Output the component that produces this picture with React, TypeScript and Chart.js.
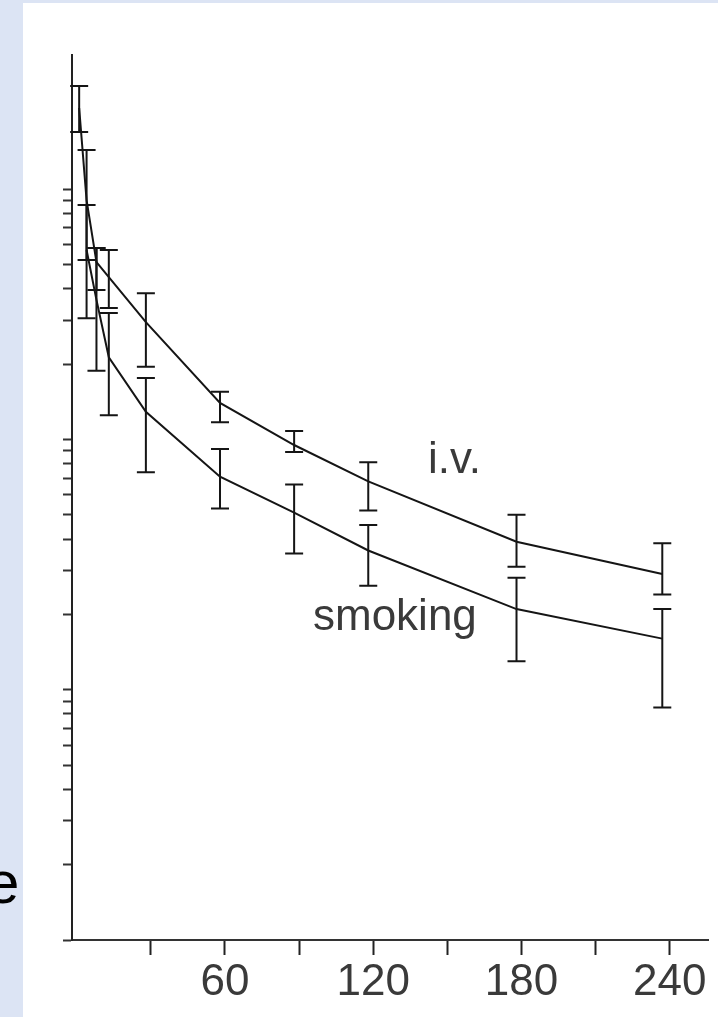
import React, { useEffect, useRef } from 'react';
import { Chart, registerables } from 'chart.js';

Chart.register(...registerables);

// time after dose (min)
const ivTimes = [1, 4, 8, 13, 28, 58, 88, 118, 178, 237];
const ivMean = [2109, 904, 511, 445, 294, 140, 95, 68, 39, 29];
const ivLow = [1691, 521, 395, 335, 195, 117, 89, 52, 31, 24];
const ivHigh = [2582, 1432, 582, 571, 384, 155, 108, 81, 50, 38.5];

const smTimes = [4, 8, 13, 28, 58, 88, 118, 178, 237];
const smMean = [571, 361, 213, 129, 71, 51, 36, 21, 16];
const smLow = [305, 188, 125, 74, 53, 35, 26, 13, 8.5];
const smHigh = [864, 582, 320, 176, 91.5, 66, 45.5, 28, 21];

const xTicks = [30, 60, 90, 120, 150, 180, 210, 240];
const xLabels = [60, 120, 180, 240];
const yTicks = [1, 2, 3, 4, 5, 6, 7, 8, 9, 10, 20, 30, 40, 50, 60, 70, 80, 90, 100, 200, 300, 400, 500, 600, 700, 800, 900, 1000];

const seriesList = [
  { times: ivTimes, mean: ivMean, low: ivLow, high: ivHigh },
  { times: smTimes, mean: smMean, low: smLow, high: smHigh },
];

const bgPlugin = {
  id: 'bg',
  beforeDraw(chart: any) {
    const { ctx, width, height } = chart;
    ctx.save();
    ctx.fillStyle = '#dce4f4';
    ctx.fillRect(0, 0, width, height);
    ctx.fillStyle = '#ffffff';
    ctx.fillRect(23, 3, width - 23, height - 3);
    ctx.restore();
  },
};

const errorBarPlugin = {
  id: 'errbars',
  afterDatasetsDraw(chart: any) {
    const { ctx, scales } = chart;
    const x = scales.x;
    const y = scales.y;
    ctx.save();
    ctx.strokeStyle = '#151515';
    ctx.lineWidth = 2;
    seriesList.forEach((s) => {
      s.times.forEach((t, i) => {
        const px = x.getPixelForValue(t);
        const pl = y.getPixelForValue(s.low[i]);
        const ph = y.getPixelForValue(s.high[i]);
        ctx.beginPath();
        ctx.moveTo(px, pl);
        ctx.lineTo(px, ph);
        ctx.moveTo(px - 9, pl);
        ctx.lineTo(px + 9, pl);
        ctx.moveTo(px - 9, ph);
        ctx.lineTo(px + 9, ph);
        ctx.stroke();
      });
    });
    ctx.restore();
  },
};

const textPlugin = {
  id: 'texts',
  afterDraw(chart: any) {
    const { ctx } = chart;
    ctx.save();
    ctx.textBaseline = 'alphabetic';
    ctx.textAlign = 'left';
    ctx.fillStyle = '#3a3a3a';
    ctx.font = '44px "Liberation Sans", Arial, sans-serif';
    ctx.fillText('i.v.', 428, 473);
    ctx.fillText('smoking', 313, 630);
    ctx.fillStyle = '#000000';
    ctx.font = '60px "Liberation Sans", Arial, sans-serif';
    ctx.fillText('e', -14, 903);
    ctx.restore();
  },
};

export default function App() {
  const ref = useRef<HTMLCanvasElement | null>(null);

  useEffect(() => {
    if (!ref.current) return;
    const lineStyle = {
      borderColor: '#151515',
      borderWidth: 2,
      pointRadius: 0,
      tension: 0,
      fill: false,
    };
    const chart = new Chart(ref.current, {
      type: 'line',
      data: {
        datasets: [
          { label: 'i.v.', data: ivTimes.map((t, i) => ({ x: t, y: ivMean[i] })), ...lineStyle },
          { label: 'smoking', data: smTimes.map((t, i) => ({ x: t, y: smMean[i] })), ...lineStyle },
        ],
      },
      options: {
        animation: false,
        responsive: false,
        maintainAspectRatio: false,
        layout: { padding: { left: 23, top: 55, right: 10, bottom: 0 } },
        plugins: { legend: { display: false }, tooltip: { enabled: false } },
        scales: {
          x: {
            type: 'linear',
            min: -1.9,
            max: 255.5,
            afterFit(s: any) {
              s.height = 77;
            },
            afterBuildTicks(s: any) {
              s.ticks = xTicks.map((v) => ({ value: v }));
            },
            grid: { drawOnChartArea: false, drawTicks: true, tickLength: 15, tickWidth: 2, tickColor: '#222' },
            border: { color: '#333', width: 2 },
            ticks: {
              callback: (v: any) => (xLabels.includes(Number(v)) ? String(v) : ''),
              font: { family: '"Liberation Sans", Arial, sans-serif', size: 44 },
              color: '#3a3a3a',
              padding: 1,
              maxRotation: 0,
              autoSkip: false,
            },
          },
          y: {
            type: 'logarithmic',
            min: 1,
            max: 3435,
            afterFit(s: any) {
              s.width = 49;
            },
            afterBuildTicks(s: any) {
              s.ticks = yTicks.map((v) => ({ value: v }));
            },
            grid: { drawOnChartArea: false, drawTicks: true, tickLength: 9, tickWidth: 2, tickColor: '#333' },
            border: { color: '#222', width: 2 },
            ticks: { display: false },
          },
        },
      },
      plugins: [bgPlugin, errorBarPlugin, textPlugin],
    } as any);
    return () => chart.destroy();
  }, []);

  return (
    <div style={{ position: 'absolute', left: 0, top: 0, width: 718, height: 1017 }}>
      <canvas ref={ref} width={718} height={1017} style={{ display: 'block' }} />
    </div>
  );
}
